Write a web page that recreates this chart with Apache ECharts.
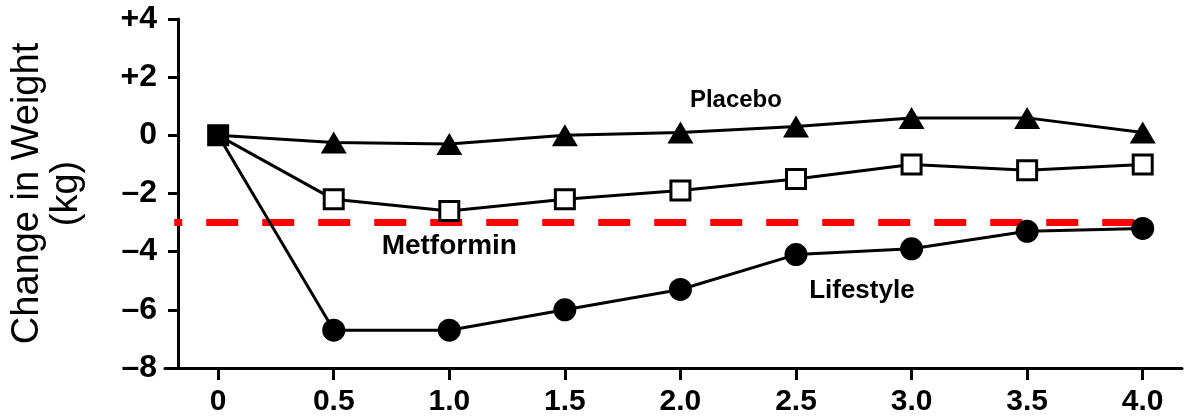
<!DOCTYPE html>
<html>
<head>
<meta charset="utf-8">
<script src="https://cdn.jsdelivr.net/npm/echarts@6/dist/echarts.min.js"></script>
<style>
  html, body { margin: 0; padding: 0; background: #fff; }
  #chart { width: 1192px; height: 420px; }
</style>
</head>
<body>
<div id="chart"></div>
<script>
// Years since randomization
const years = [0, 0.5, 1.0, 1.5, 2.0, 2.5, 3.0, 3.5, 4.0];

// Mean change in weight (kg) per group
const placebo   = [0, -0.25, -0.3, 0.0, 0.1, 0.3, 0.6, 0.6, 0.1];
const metformin = [0, -2.2, -2.6, -2.2, -1.9, -1.5, -1.0, -1.2, -1.0];
const lifestyle = [0, -6.7, -6.7, -6.0, -5.3, -4.1, -3.9, -3.3, -3.2];

// Reference level (kg)
const referenceLevel = -3;

// Group names and where their labels sit (in axis units)
const groupLabels = ['Placebo', 'Metformin', 'Lifestyle'];
const groupLabelAnchors = [[2.24, 1.2], [1.0, -3.8], [2.785, -5.33]];
const groupLabelSizes = [24, 28, 26];

// Axis ticks
const xTicks = [0, 0.5, 1.0, 1.5, 2.0, 2.5, 3.0, 3.5, 4.0];
const yMin = -8, yMax = 4, yStep = 2;

const FONT = '"Liberation Sans", Arial, Helvetica, sans-serif';

function pairs(values, firstPointStyle) {
  return years.map((x, i) => {
    if (i === 0 && firstPointStyle) {
      return Object.assign({ value: [x, values[i]] }, firstPointStyle);
    }
    return [x, values[i]];
  });
}

const chart = echarts.init(document.getElementById('chart'), null, { renderer: 'canvas' });

const option = {
  animation: false,
  backgroundColor: '#fff',
  grid: { left: 165, right: 10, top: 19, bottom: 52 },
  xAxis: {
    type: 'value',
    min: -0.23,
    max: 4.17,
    splitLine: { show: false },
    axisLine: { onZero: false, lineStyle: { color: '#000', width: 3 } },
    axisTick: { length: 12, customValues: xTicks, lineStyle: { color: '#000', width: 3 } },
    axisLabel: {
      customValues: xTicks,
      margin: 19,
      color: '#000',
      fontFamily: FONT,
      fontWeight: 'bold',
      fontSize: 30,
      formatter: v => (v === 0 ? '0' : v.toFixed(1))
    }
  },
  yAxis: {
    type: 'value',
    min: yMin,
    max: yMax,
    interval: yStep,
    offset: -13,
    splitLine: { show: false },
    axisLine: { onZero: false, lineStyle: { color: '#000', width: 3 } },
    axisTick: { length: 10, lineStyle: { color: '#000', width: 3 } },
    axisLabel: {
      margin: 21,
      color: '#000',
      fontFamily: FONT,
      fontWeight: 'bold',
      fontSize: 32,
      formatter: v => (v > 0 ? '+' + v : v < 0 ? '\u2013' + Math.abs(v) : '0')
    },
    name: 'Change in Weight\n(kg)',
    nameLocation: 'middle',
    nameRotate: 90,
    nameGap: 92,
    nameTextStyle: {
      color: '#000',
      fontFamily: FONT,
      fontSize: 38,
      lineHeight: 39,
      align: 'center'
    }
  },
  series: [
    {
      name: 'Placebo',
      type: 'line',
      z: 3,
      data: pairs(placebo, { symbol: 'none' }),
      symbol: 'triangle',
      symbolSize: [26, 22],
      lineStyle: { color: '#000', width: 3 },
      itemStyle: { color: '#000' },
      markLine: {
        z: 1,
        silent: true,
        symbol: 'none',
        label: { show: false },
        lineStyle: { color: '#ff0000', width: 7, type: [32, 24], dashOffset: 24, opacity: 1 },
        data: [[{ coord: [-0.19, referenceLevel] }, { coord: [4.0, referenceLevel] }]]
      }
    },
    {
      name: 'Metformin',
      type: 'line',
      z: 3,
      data: pairs(metformin, { itemStyle: { color: '#000', borderColor: '#000', borderWidth: 3 } }),
      symbol: 'rect',
      symbolSize: 19,
      lineStyle: { color: '#000', width: 3 },
      itemStyle: { color: '#fff', borderColor: '#000', borderWidth: 3 }
    },
    {
      name: 'Lifestyle',
      type: 'line',
      z: 3,
      data: pairs(lifestyle, { symbol: 'none' }),
      symbol: 'circle',
      symbolSize: 23,
      lineStyle: { color: '#000', width: 3 },
      itemStyle: { color: '#000' }
    },
    {
      name: 'groupLabels',
      type: 'scatter',
      z: 4,
      silent: true,
      symbolSize: 0,
      itemStyle: { opacity: 1 },
      data: groupLabels.map((name, i) => ({
        name,
        value: groupLabelAnchors[i],
        label: { fontSize: groupLabelSizes[i] }
      })),
      label: {
        show: true,
        position: 'inside',
        color: '#000',
        opacity: 1,
        fontFamily: FONT,
        fontWeight: 'bold',
        formatter: p => p.name
      }
    }
  ]
};

chart.setOption(option);
</script>
</body>
</html>
